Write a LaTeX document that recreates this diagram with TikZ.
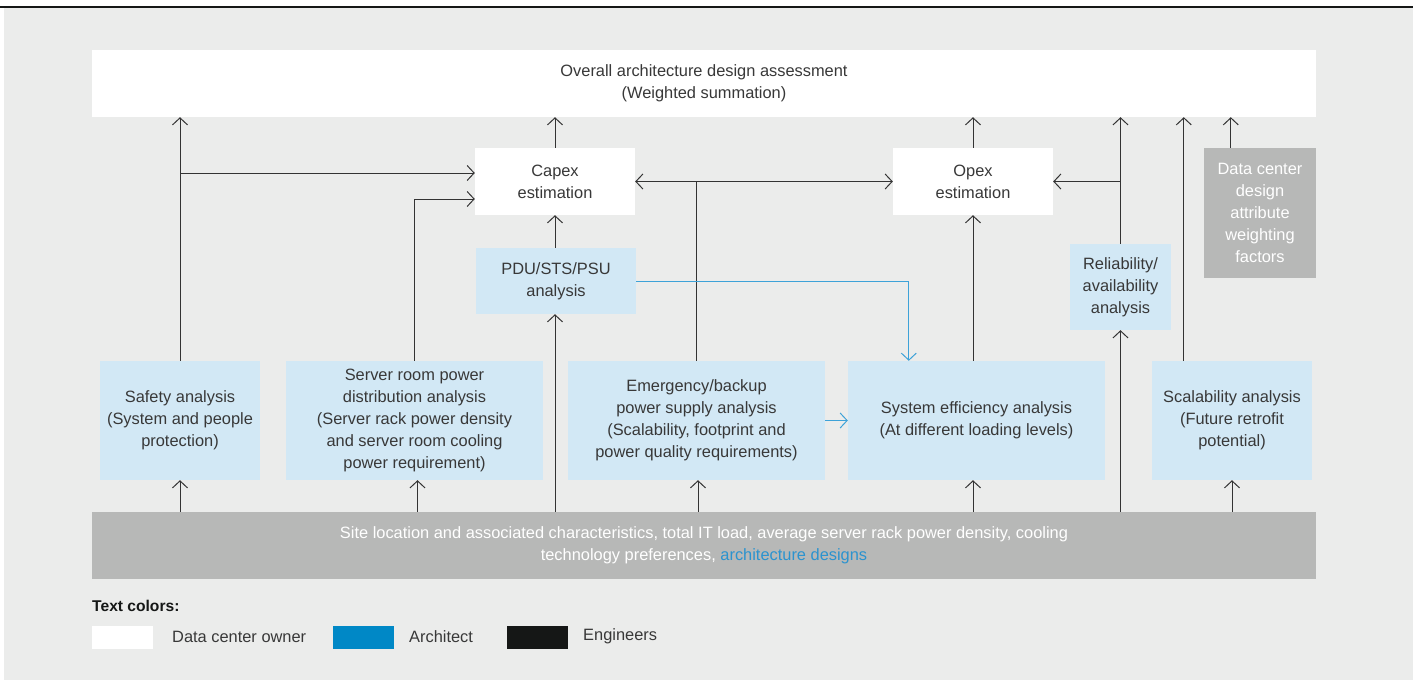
\documentclass[tikz,border=0pt]{standalone}
\usepackage{fontspec}
\setmainfont{Liberation Sans}
\usetikzlibrary{arrows.meta,calc}
\definecolor{bg}{HTML}{EBECEB}
\definecolor{lblue}{HTML}{D2E8F5}
\definecolor{gbox}{HTML}{B7B8B7}
\definecolor{txt}{HTML}{383838}
\definecolor{ln}{HTML}{333333}
\definecolor{arch}{HTML}{0088C6}
\definecolor{archtxt}{HTML}{2B93CF}
\definecolor{archln}{HTML}{3DA2D8}
\definecolor{eng}{HTML}{151716}
\begin{document}
\begin{tikzpicture}[x=1pt,y=-1pt,
  >={Straight Barb[length=7pt,width=15pt]},
  box/.style={inner sep=0pt, align=center, text=txt, font=\fontsize{16.4}{22}\selectfont},
  wbox/.style={box, fill=white},
  bbox/.style={box, fill=lblue},
  gbx/.style={box, fill=gbox, text=white},
  arr/.style={draw=ln, line width=1pt, ->},
  darr/.style={draw=ln, line width=1pt, <->},
  plain/.style={draw=ln, line width=1pt},
  barr/.style={draw=archln, line width=1pt, ->},
  lgd/.style={inner sep=0pt, anchor=west, text=txt, font=\fontsize{16.4}{20}\selectfont},
  swatch/.style={inner sep=0pt, minimum width=61pt, minimum height=23pt}]
\useasboundingbox (0,0) rectangle (1413,680);
\fill[bg] (4,8) rectangle (1413,680);
\draw[eng, line width=1.8pt] (0,6.6) -- (1413,6.6);

% boxes
\node[wbox, minimum width=1224pt, minimum height=67pt] (over) at (704,83.5) {Overall architecture design assessment\\(Weighted summation)};
\node[wbox, minimum width=160pt, minimum height=67pt] (capex) at (555,181.5) {Capex\\estimation};
\node[wbox, minimum width=160pt, minimum height=67pt] (opex) at (973,181.5) {Opex\\estimation};
\node[gbx, minimum width=112pt, minimum height=130pt] (weight) at (1260,213) {Data center\\design\\attribute\\weighting\\factors};
\node[bbox, minimum width=160pt, minimum height=66pt] (pdu) at (556,281) {PDU/STS/PSU\\analysis};
\node[bbox, minimum width=101pt, minimum height=86pt] (rel) at (1120.5,287) {Reliability/\\availability\\analysis};
\node[bbox, minimum width=160pt, minimum height=119pt] (safety) at (180,420.5) {Safety analysis\\(System and people\\protection)};
\node[bbox, minimum width=257pt, minimum height=119pt] (server) at (414.5,420.5) {Server room power\\distribution analysis\\(Server rack power density\\and server room cooling\\power requirement)};
\node[bbox, minimum width=257pt, minimum height=119pt] (emerg) at (696.5,420.5) {Emergency/backup\\power supply analysis\\(Scalability, footprint and\\power quality requirements)};
\node[bbox, minimum width=257pt, minimum height=119pt] (syseff) at (976.5,420.5) {System efficiency analysis\\(At different loading levels)};
\node[bbox, minimum width=160pt, minimum height=119pt] (scal) at (1232,420.5) {Scalability analysis\\(Future retrofit\\potential)};
\node[gbx, minimum width=1224pt, minimum height=67pt] (site) at (704,545.5) {Site location and associated characteristics, total IT load, average server rack power density, cooling\\technology preferences, \textcolor{archtxt}{architecture designs}};

% coordinates
\coordinate (capA) at ($(capex.west)+(0,-8.5)$);
\coordinate (capB) at ($(capex.west)+(0,17.5)$);
\coordinate (scx) at ($(scal.north west)+(32,0)$);
\coordinate (wx) at ($(weight.north west)+(27,0)$);
\coordinate (bx) at ($(syseff.north west)+(61,0)$);
\coordinate (srvx) at ($(server.south)+(3,0)$);
\coordinate (emx) at ($(emerg.south)+(1.5,0)$);

% connectors to overall
\draw[arr] (safety.north) -- (safety.north |- over.south);
\draw[arr] (safety.north |- capA) -- (capA);
\draw[arr] (server.north) -- (server.north |- capB) -- (capB);
\draw[arr] (capex.south |- pdu.north) -- (capex.south);
\draw[arr] (capex.north) -- (capex.north |- over.south);
\draw[darr] (capex.east) -- (opex.west);
\draw[plain] (emerg.north) -- (emerg.north |- capex.east);
\draw[arr] (opex.north) -- (opex.north |- over.south);
\draw[arr] (opex.south |- syseff.north) -- (opex.south);
\draw[arr] (rel.north) -- (rel.north |- over.south);
\draw[arr] (rel.north |- opex.east) -- (opex.east);
\draw[arr] (scx) -- (scx |- over.south);
\draw[arr] (wx) -- (wx |- over.south);

% architect connectors
\draw[barr] (pdu.east) -- (bx |- pdu.east) -- (bx);
\draw[barr] (emerg.east) -- (syseff.west);

% connectors from site
\draw[arr] (safety.south |- site.north) -- (safety.south);
\draw[arr] (srvx |- site.north) -- (srvx);
\draw[arr] (capex.south |- site.north) -- (capex.south |- pdu.south);
\draw[arr] (emx |- site.north) -- (emx);
\draw[arr] (opex.south |- site.north) -- (opex.south |- syseff.south);
\draw[arr] (rel.south |- site.north) -- (rel.south);
\draw[arr] (scal.south |- site.north) -- (scal.south);

% legend
\node[lgd, font=\fontsize{15.6}{18}\selectfont\bfseries, text=eng] (lgtitle) at (92,606) {Text colors:};
\node[swatch, fill=white] (sw1) at (122.5,637.5) {};
\node[lgd] (l1) at (172,636.5) {Data center owner};
\node[swatch, fill=arch] (sw2) at (363.5,637.5) {};
\node[lgd] (l2) at (409,636.5) {Architect};
\node[swatch, fill=eng] (sw3) at (537.5,637.5) {};
\node[lgd] (l3) at (583,636.5) {Engineers};
\end{tikzpicture}
\end{document}
